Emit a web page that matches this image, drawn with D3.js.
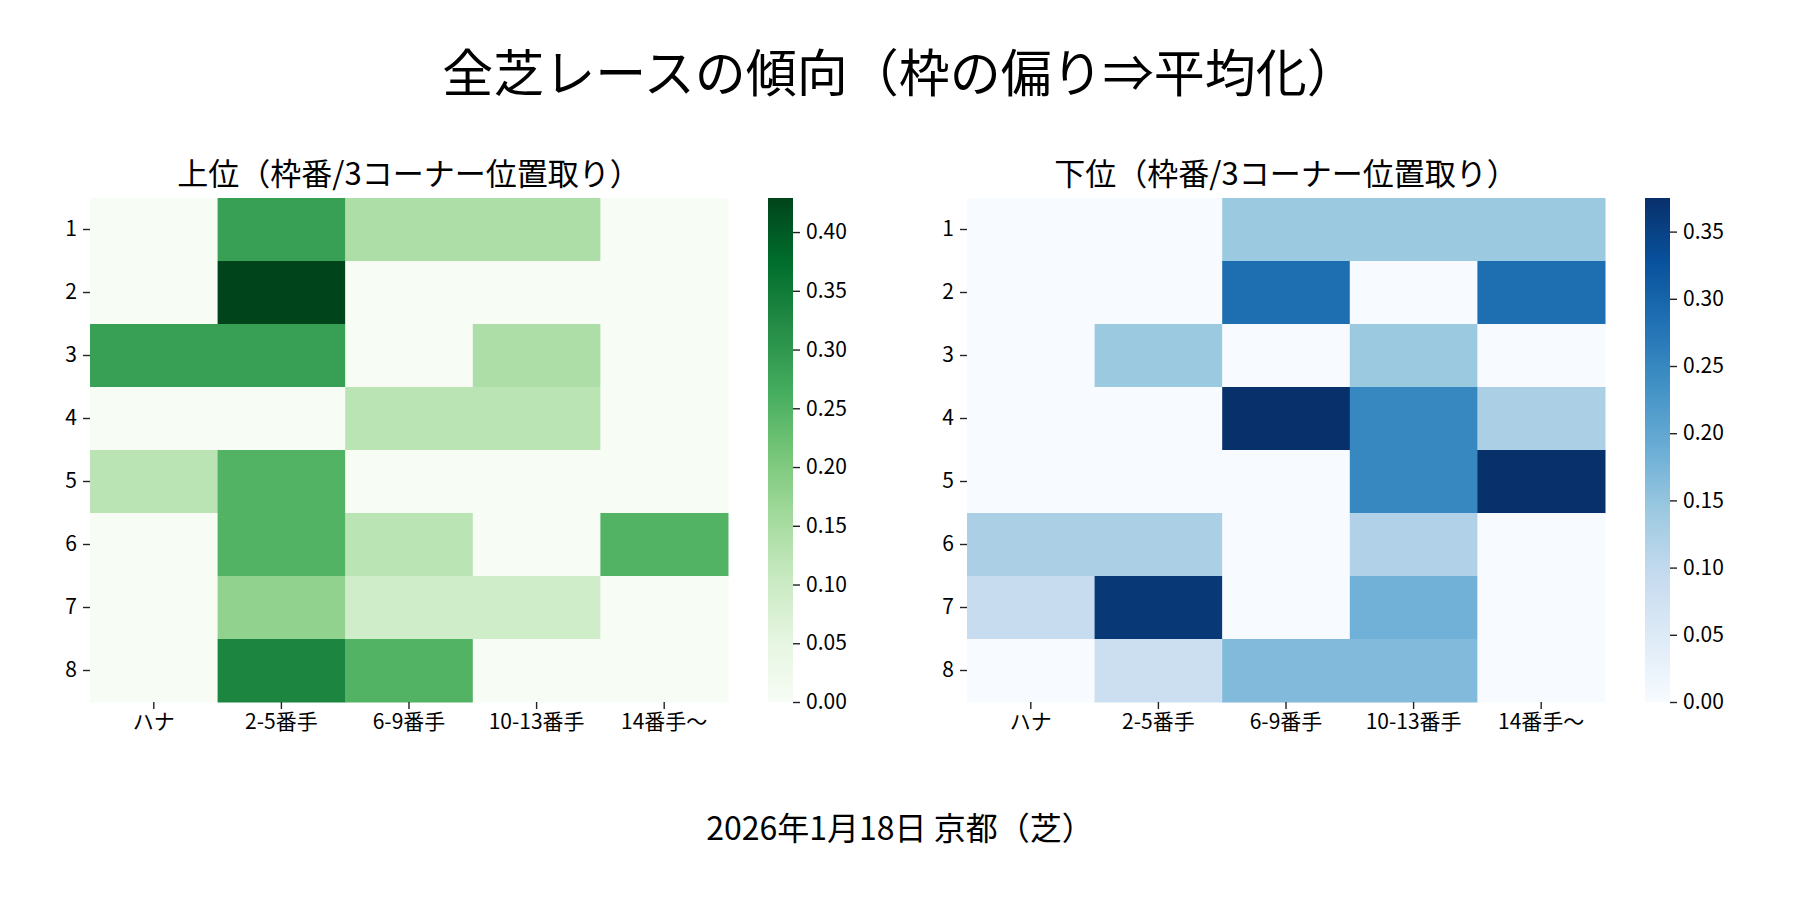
<!DOCTYPE html>
<html lang="ja">
<head>
  <meta charset="UTF-8">
  <title>全芝レースの傾向</title>
  <script src="https://d3js.org/d3.v7.min.js"></script>
  <style>
    body { margin: 0; background: #fff; }
    text { font-family: "Noto Sans CJK JP", "Noto Sans", sans-serif; fill: #000; }
  </style>
</head>
<body>
  <div id="chart"></div>
  <script>
    // 枠番 (行) と 3コーナー位置取り (列)
    const frames = ["1", "2", "3", "4", "5", "6", "7", "8"];
    const positions = ["ハナ", "2-5番手", "6-9番手", "10-13番手", "14番手〜"];

    // 上位
    const upperValues = [
      [0,     0.286, 0.143, 0.143, 0],
      [0,     0.429, 0,     0,     0],
      [0.286, 0.286, 0,     0.143, 0],
      [0,     0,     0.125, 0.125, 0],
      [0.125, 0.25,  0,     0,     0],
      [0,     0.25,  0.125, 0,     0.25],
      [0,     0.18,  0.091, 0.091, 0],
      [0,     0.333, 0.25,  0,     0]
    ];
    // 下位
    const lowerValues = [
      [0,     0,     0.143, 0.143, 0.143],
      [0,     0,     0.286, 0,     0.286],
      [0,     0.143, 0,     0.143, 0],
      [0,     0,     0.375, 0.25,  0.125],
      [0,     0,     0,     0.25,  0.375],
      [0.125, 0.125, 0,     0.12,  0],
      [0.091, 0.364, 0,     0.182, 0],
      [0,     0.083, 0.167, 0.167, 0]
    ];

    const upperTicks = [0, 0.05, 0.10, 0.15, 0.20, 0.25, 0.30, 0.35, 0.40];
    const lowerTicks = [0, 0.05, 0.10, 0.15, 0.20, 0.25, 0.30, 0.35];

    const greens = ["#f7fcf5", "#e5f5e0", "#c7e9c0", "#a1d99b", "#74c476", "#41ab5d", "#238b45", "#006d2c", "#00441b"];
    const blues  = ["#f7fbff", "#deebf7", "#c6dbef", "#9ecae1", "#6baed6", "#4292c6", "#2171b5", "#08519c", "#08306b"];

    const W = 1800, H = 900;
    const svg = d3.select("#chart").append("svg")
      .attr("width", W).attr("height", H);

    svg.append("text")
      .attr("x", W / 2).attr("y", 92)
      .attr("text-anchor", "middle")
      .style("font-size", "51px")
      .text("全芝レースの傾向（枠の偏り⇒平均化）");

    svg.append("text")
      .attr("x", W / 2).attr("y", 840)
      .attr("text-anchor", "middle")
      .style("font-size", "32px")
      .text("2026年1月18日 京都（芝）");

    const defs = svg.append("defs");

    function heatmap(opt) {
      const { left, title, values, colors, ticks, cbLeft, id } = opt;
      const top = 198, width = 638, height = 504;
      const vmax = d3.max(values.flat());

      const color = d3.scaleLinear()
        .domain(d3.range(colors.length).map(i => vmax * i / (colors.length - 1)))
        .range(colors)
        .interpolate(d3.interpolateRgb)
        .clamp(true);

      const x = d3.scaleBand().domain(positions).range([0, width]);
      const y = d3.scaleBand().domain(frames).range([0, height]);

      const g = svg.append("g").attr("transform", `translate(${left},${top})`);

      const cells = [];
      values.forEach((row, i) => row.forEach((v, j) => cells.push({ f: frames[i], p: positions[j], v })));

      g.selectAll(".cell")
        .data(cells)
        .enter()
        .append("rect")
        .attr("class", "cell")
        .attr("x", d => x(d.p))
        .attr("y", d => y(d.f))
        .attr("width", x.bandwidth() + 0.5)
        .attr("height", y.bandwidth() + 0.5)
        .attr("fill", d => color(d.v));

      const ax = g.append("g")
        .attr("transform", `translate(0,${height})`)
        .call(d3.axisBottom(x).tickSize(7).tickPadding(5));
      const ay = g.append("g")
        .call(d3.axisLeft(y).tickSize(7).tickPadding(6));
      [ax, ay].forEach(a => {
        a.select(".domain").remove();
        a.selectAll("line").attr("stroke", "#222").attr("stroke-width", 1.4);
        a.selectAll("text").style("font-size", "21px").attr("fill", "#000");
      });

      g.append("text")
        .attr("x", width / 2).attr("y", -13)
        .attr("text-anchor", "middle")
        .style("font-size", "31px")
        .text(title);

      // カラーバー
      const grad = defs.append("linearGradient")
        .attr("id", id)
        .attr("x1", "0").attr("y1", "1").attr("x2", "0").attr("y2", "0");
      colors.forEach((c, i) => grad.append("stop")
        .attr("offset", i / (colors.length - 1))
        .attr("stop-color", c));

      const cb = svg.append("g").attr("transform", `translate(${cbLeft},${top})`);
      cb.append("rect")
        .attr("width", 25).attr("height", height)
        .attr("fill", `url(#${id})`);

      const cy = d3.scaleLinear().domain([0, vmax]).range([height, 0]);
      const ac = cb.append("g")
        .attr("transform", "translate(25,0)")
        .call(d3.axisRight(cy).tickValues(ticks).tickFormat(d3.format(".2f")).tickSize(7).tickPadding(6));
      ac.select(".domain").remove();
      ac.selectAll("line").attr("stroke", "#222").attr("stroke-width", 1.4);
      ac.selectAll("text").style("font-size", "21px").attr("fill", "#000");
    }

    heatmap({ left: 90, title: "上位（枠番/3コーナー位置取り）", values: upperValues,
              colors: greens, ticks: upperTicks, cbLeft: 768, id: "gradGreens" });
    heatmap({ left: 967, title: "下位（枠番/3コーナー位置取り）", values: lowerValues,
              colors: blues, ticks: lowerTicks, cbLeft: 1645, id: "gradBlues" });
  </script>
</body>
</html>
